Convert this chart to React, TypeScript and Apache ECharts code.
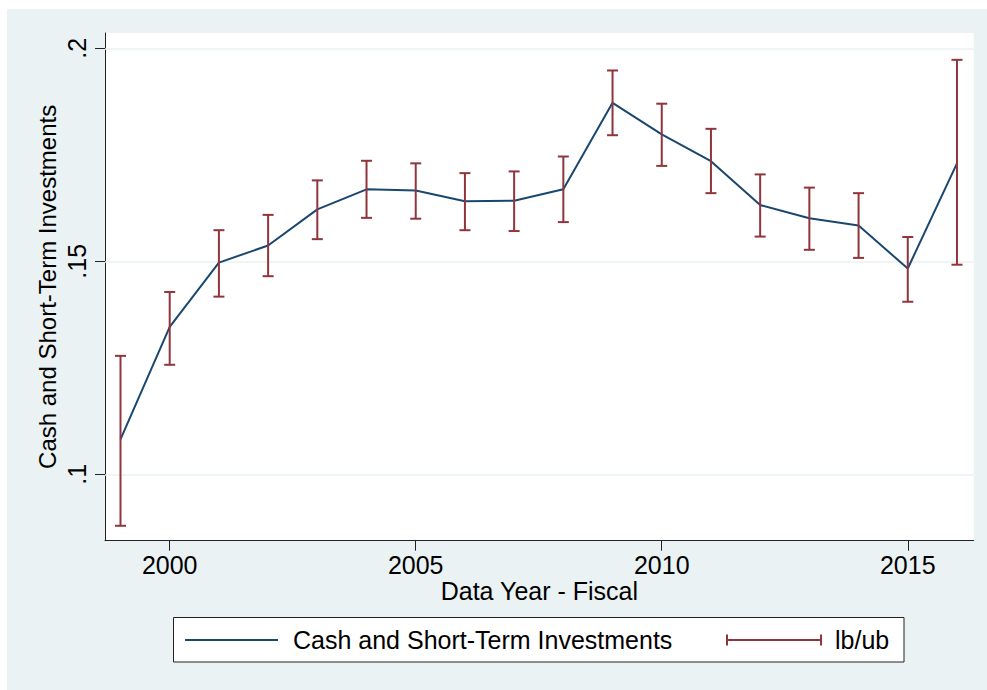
import React, { useEffect, useRef } from "react";
import * as echarts from "echarts";

const years = [1999, 2000, 2001, 2002, 2003, 2004, 2005, 2006, 2007, 2008, 2009, 2010, 2011, 2012, 2013, 2014, 2015, 2016];
const cashValues = [0.1082, 0.1346, 0.1497, 0.1537, 0.1622, 0.1669, 0.1666, 0.1641, 0.1642, 0.1669, 0.1872, 0.1798, 0.1735, 0.1632, 0.1601, 0.1584, 0.1483, 0.1730];
const lowerBounds = [0.0879, 0.1257, 0.1417, 0.1465, 0.1552, 0.1602, 0.1600, 0.1573, 0.1571, 0.1592, 0.1796, 0.1724, 0.1660, 0.1558, 0.1527, 0.1508, 0.1405, 0.1492];
const upperBounds = [0.1278, 0.1428, 0.1573, 0.1609, 0.1690, 0.1736, 0.1730, 0.1707, 0.1711, 0.1746, 0.1948, 0.1870, 0.1811, 0.1704, 0.1673, 0.1660, 0.1557, 0.1973];
const xTicks = [2000, 2005, 2010, 2015];
const yTicks = [0.1, 0.15, 0.2];
const seriesName = "Cash and Short-Term Investments";
const boundsName = "lb/ub";
const xTitle = "Data Year - Fiscal";
const yTitle = "Cash and Short-Term Investments";

const NAVY = "#1A476F";
const MAROON = "#90353B";
const BG = "#EAF2F3";
const FONT = "'Liberation Sans', Arial, Helvetica, sans-serif";
const FS = 25;

export default function App() {
  const ref = useRef<HTMLDivElement>(null);
  useEffect(() => {
    if (!ref.current) return;
    const chart = echarts.init(ref.current, null, { renderer: "svg" });
    const lineData = years.map((y, i) => [y, cashValues[i]]);
    const barData = years.map((y, i) => [y, lowerBounds[i], upperBounds[i]]);
    const fmtY = (v: number) => String(v).replace(/^0\./, ".");
    const option: any = {
      animation: false,
      backgroundColor: "#ffffff",
      textStyle: { fontFamily: FONT },
      grid: {
        left: 105,
        top: 33,
        right: 13.3,
        bottom: 149.3,
        show: true,
        backgroundColor: "#ffffff",
        borderWidth: 0,
        containLabel: false,
        outerBoundsMode: "none",
      },
      xAxis: {
        type: "value",
        min: 1998.685,
        max: 2016.34,
        name: xTitle,
        nameLocation: "middle",
        nameGap: 38,
        nameMoveOverlap: false,
        nameTextStyle: { fontSize: FS, color: "#000", fontFamily: FONT },
        axisLine: { show: true, onZero: false, lineStyle: { color: "#222", width: 1 } },
        axisTick: { show: true, length: 10, lineStyle: { color: "#222", width: 1 }, customValues: xTicks },
        axisLabel: { show: true, margin: 12, fontSize: FS, color: "#000", fontFamily: FONT, customValues: xTicks, formatter: (v: number) => String(v) },
        splitLine: { show: false },
      },
      yAxis: {
        type: "value",
        min: 0.0844,
        max: 0.2036,
        name: yTitle,
        nameLocation: "middle",
        nameGap: 46,
        nameRotate: 90,
        nameMoveOverlap: false,
        nameTextStyle: { fontSize: 24, color: "#000", fontFamily: FONT },
        axisLine: { show: true, onZero: false, lineStyle: { color: "#222", width: 1 } },
        axisTick: { show: true, length: 10, lineStyle: { color: "#222", width: 1 }, customValues: yTicks },
        axisLabel: { show: true, rotate: 90, margin: 16, fontSize: FS, color: "#000", fontFamily: FONT, customValues: yTicks, formatter: fmtY },
        splitLine: { show: false },
      },
      graphic: [
        { type: "rect", z: -100, silent: true, shape: { x: 7, y: 9, width: 980, height: 681 }, style: { fill: BG } },
        { type: "rect", z: 10, shape: { x: 173.5, y: 617.5, width: 730.5, height: 44.5 }, style: { fill: "#ffffff", stroke: "#222", lineWidth: 1 } },
        { type: "line", z: 11, shape: { x1: 185, y1: 640, x2: 278, y2: 640 }, style: { stroke: NAVY, lineWidth: 2 } },
        { type: "text", z: 11, x: 293, y: 640, style: { text: seriesName, fontSize: FS, fontFamily: FONT, fill: "#000", verticalAlign: "middle", align: "left" } },
        { type: "line", z: 11, shape: { x1: 727, y1: 640, x2: 821, y2: 640 }, style: { stroke: MAROON, lineWidth: 2 } },
        { type: "line", z: 11, shape: { x1: 727, y1: 634.5, x2: 727, y2: 645.5 }, style: { stroke: MAROON, lineWidth: 2 } },
        { type: "line", z: 11, shape: { x1: 821, y1: 634.5, x2: 821, y2: 645.5 }, style: { stroke: MAROON, lineWidth: 2 } },
        { type: "text", z: 11, x: 835, y: 640, style: { text: boundsName, fontSize: FS, fontFamily: FONT, fill: "#000", verticalAlign: "middle", align: "left" } },
      ],
      series: [
        {
          name: seriesName,
          type: "line",
          data: lineData,
          showSymbol: false,
          symbol: "none",
          lineStyle: { color: NAVY, width: 2 },
          itemStyle: { color: NAVY },
          z: 3,
          markLine: {
            silent: true,
            z: 1,
            symbol: ["none", "none"],
            label: { show: false },
            lineStyle: { color: BG, width: 1.5, type: "solid" },
            emphasis: { disabled: true },
            data: yTicks.map((v) => ({ yAxis: v })),
          },
        },
        {
          name: boundsName,
          type: "custom",
          z: 4,
          data: barData,
          encode: { x: 0, y: [1, 2] },
          renderItem: (params: any, api: any) => {
            const x = api.value(0);
            const lo = api.value(1);
            const hi = api.value(2);
            const top = api.coord([x, hi]);
            const bot = api.coord([x, lo]);
            const hw = 5.5;
            const style = { stroke: MAROON, lineWidth: 2, fill: "none" };
            return {
              type: "group",
              children: [
                { type: "line", shape: { x1: top[0], y1: top[1], x2: bot[0], y2: bot[1] }, style },
                { type: "line", shape: { x1: top[0] - hw, y1: top[1], x2: top[0] + hw, y2: top[1] }, style },
                { type: "line", shape: { x1: bot[0] - hw, y1: bot[1], x2: bot[0] + hw, y2: bot[1] }, style },
              ],
            };
          },
        },
      ],
    };
    chart.setOption(option);
    return () => chart.dispose();
  }, []);
  return <div ref={ref} style={{ position: "fixed", left: 0, top: 0, width: 987, height: 690 }} />;
}
